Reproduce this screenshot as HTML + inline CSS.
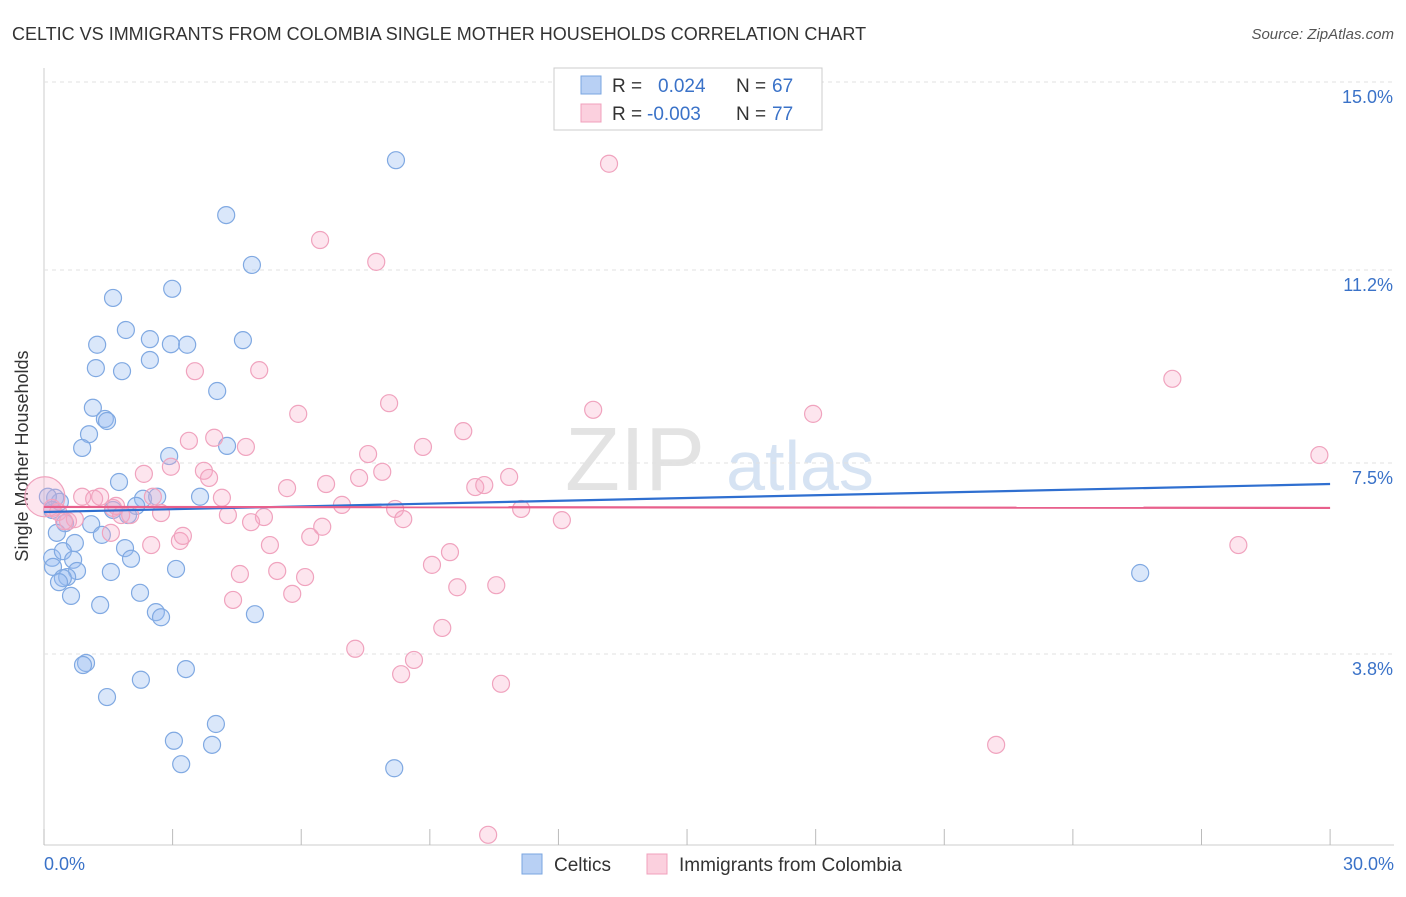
<!DOCTYPE html>
<html><head><meta charset="utf-8">
<style>
body{margin:0;background:#fff;font-family:"Liberation Sans",sans-serif;}
svg text{font-family:"Liberation Sans",sans-serif;}
</style></head>
<body>
<svg width="1406" height="892" viewBox="0 0 1406 892" id="chart">
<text x="12" y="40" font-size="18" fill="#333">CELTIC VS IMMIGRANTS FROM COLOMBIA SINGLE MOTHER HOUSEHOLDS CORRELATION CHART</text>
<text x="1394" y="39" font-size="15" fill="#555" font-style="italic" text-anchor="end">Source: ZipAtlas.com</text>
<text x="28" y="456" font-size="18" fill="#333" text-anchor="middle" transform="rotate(-90 28 456)">Single Mother Households</text>
<text x="635" y="490" font-size="90" fill="#d8d8d8" font-family="Liberation Serif" text-anchor="middle" opacity="0.7">ZIP</text>
<text x="800" y="490" font-size="70" fill="#c6d8ee" text-anchor="middle" opacity="0.7">atlas</text>
<g id="grid"></g>
<g id="points"></g>
<g id="trends"></g>
<g>
<rect x="554" y="68" width="268" height="62" fill="#fff" stroke="#ccc"/>
<rect x="581" y="76" width="20" height="18" fill="#b8d0f4" stroke="#7aa6e0"/>
<text x="612" y="92" font-size="19" fill="#333">R = </text><text x="658" y="92" font-size="19" fill="#3a72c8">0.024</text>
<text x="736" y="92" font-size="19" fill="#333">N = </text><text x="772" y="92" font-size="19" fill="#3a72c8">67</text>
<rect x="581" y="104" width="20" height="18" fill="#fbd0de" stroke="#f0a0bc"/>
<text x="612" y="120" font-size="19" fill="#333">R = </text><text x="647" y="120" font-size="19" fill="#3a72c8">-0.003</text>
<text x="736" y="120" font-size="19" fill="#333">N = </text><text x="772" y="120" font-size="19" fill="#3a72c8">77</text>
</g>
<g>
<rect x="522" y="854" width="20" height="20" fill="#b8d0f4" stroke="#7aa6e0"/>
<text x="554" y="871" font-size="19" fill="#333">Celtics</text>
<rect x="647" y="854" width="20" height="20" fill="#fbd0de" stroke="#f0a0bc"/>
<text x="679" y="871" font-size="19" fill="#333">Immigrants from Colombia</text>
</g>
</svg>
<script>
const xTicks=[0,3,6,9,12,15,18,21,24,27,30];
const yTicks=[15.0,11.2,7.5,3.8];
const yTickLabels=["15.0%","11.2%","7.5%","3.8%"];
const xEndLabels=["0.0%","30.0%"];
const celticsX=[8.21,4.25,4.85,1.61,2.99,1.91,1.24,2.47,2.96,3.34,4.64,1.21,1.82,2.47,4.04,1.14,1.42,1.47,1.05,0.89,4.27,2.92,1.75,0.26,0.37,2.31,2.64,3.64,1.61,2.15,1.96,1.10,0.49,0.30,1.35,0.72,1.89,0.19,0.44,0.68,0.21,2.03,0.77,1.56,0.54,0.44,3.08,0.35,2.24,0.63,1.31,2.61,2.73,4.92,0.98,0.91,3.31,2.26,1.47,4.01,3.03,3.92,3.20,8.17,25.57,0.09,0.19];
const celticsY=[13.47,12.39,11.41,10.76,10.94,10.13,9.84,9.95,9.85,9.84,9.93,9.38,9.32,9.54,8.93,8.60,8.38,8.34,8.08,7.81,7.85,7.65,7.14,6.83,6.75,6.81,6.85,6.85,6.59,6.67,6.49,6.31,6.33,6.14,6.10,5.94,5.84,5.65,5.78,5.61,5.47,5.63,5.39,5.37,5.27,5.25,5.43,5.17,4.96,4.90,4.72,4.58,4.48,4.54,3.58,3.54,3.46,3.25,2.91,2.38,2.05,1.97,1.59,1.51,5.35,6.85,6.59];
const colombiaX=[13.18,6.44,7.75,3.52,5.02,26.32,8.05,12.81,5.93,17.94,9.78,3.38,3.97,4.71,8.84,29.75,2.96,7.56,2.33,3.73,3.85,7.89,7.35,10.85,5.67,6.58,10.06,10.27,0.89,1.17,1.31,1.61,1.68,2.54,2.73,4.15,0.19,0.33,0.56,0.72,1.80,2.01,4.29,5.13,6.95,8.19,8.38,11.13,12.08,4.83,6.49,0.47,1.56,2.50,3.17,3.24,5.27,6.21,9.47,27.86,4.57,5.44,6.09,9.05,4.41,5.79,9.64,10.55,9.29,7.26,8.63,8.33,10.66,22.21,10.36,0.02];
const colombiaY=[13.40,11.90,11.47,9.32,9.34,9.17,8.69,8.56,8.48,8.48,8.14,7.95,8.01,7.83,7.83,7.67,7.44,7.69,7.30,7.36,7.22,7.34,7.22,7.24,7.02,7.10,7.04,7.08,6.85,6.81,6.85,6.63,6.67,6.85,6.53,6.83,6.63,6.55,6.37,6.41,6.49,6.49,6.49,6.45,6.69,6.61,6.41,6.61,6.39,6.35,6.26,6.37,6.14,5.90,5.98,6.08,5.90,6.06,5.76,5.90,5.33,5.39,5.27,5.51,4.82,4.94,5.07,5.11,4.27,3.86,3.64,3.36,3.17,1.97,0.20,6.85];
const celticsTrend=[6.55,7.10];
const colombiaTrend=[6.65,6.63];

const X=v=>44+v*42.87;
const Y=v=>845-v*50.84;
const NS='http://www.w3.org/2000/svg';
function mk(tag,attrs,parent){const e=document.createElementNS(NS,tag);for(const k in attrs)e.setAttribute(k,attrs[k]);parent.appendChild(e);return e;}
const grid=document.getElementById('grid');
const pts=document.getElementById('points');
const tr=document.getElementById('trends');
const ax=mk('line',{x1:44,y1:68,x2:44,y2:845,stroke:'#ccc'},grid);


const bx=mk('line',{x1:44,y1:845,x2:1394,y2:845,stroke:'#ccc'},grid);


yTicks.forEach((t,i)=>{
  const yy=t===15.0?82:(t===11.2?270:(t===7.5?463:654));
  const g=mk('line',{x1:44,y1:yy,x2:1394,y2:yy,stroke:'#e2e2e2','stroke-dasharray':'4 4'},grid);
  
  
  const l=mk('text',{x:1393,y:yy+21,'font-size':18,fill:'#3a72c8','text-anchor':'end'},grid);
  l.textContent=yTickLabels[i];
  
  
});
xTicks.forEach(t=>{
  const m=mk('line',{x1:X(t),y1:829,x2:X(t),y2:845,stroke:'#bbb'},grid);
  
  
});
const xl0=mk('text',{x:44,y:870,'font-size':18,fill:'#3a72c8'},grid);
xl0.textContent=xEndLabels[0];


const xl1=mk('text',{x:1394,y:870,'font-size':18,fill:'#3a72c8','text-anchor':'end'},grid);
xl1.textContent=xEndLabels[1];


celticsX.forEach((v,i)=>{
  const c=mk('circle',{cx:X(v),cy:Y(celticsY[i]),r:8.5,fill:'rgba(150,185,240,0.35)',stroke:'#80a9e2','stroke-width':1.2},pts);
  
  
});
colombiaX.forEach((v,i)=>{
  const big=i===colombiaX.length-1;
  const c=mk('circle',{cx:X(v),cy:Y(colombiaY[i]),r:big?20:8.5,fill:'rgba(248,170,198,0.3)',stroke:'#f0a3be','stroke-width':1.2},pts);
  
  
});
const t1=mk('line',{x1:X(0),y1:Y(celticsTrend[0]),x2:X(30),y2:Y(celticsTrend[1]),stroke:'#2f6fd0','stroke-width':2.2},tr);


const t2=mk('line',{x1:X(0),y1:Y(colombiaTrend[0]),x2:X(30),y2:Y(colombiaTrend[1]),stroke:'#e8608c','stroke-width':2.2},tr);


</script>
</body></html>
